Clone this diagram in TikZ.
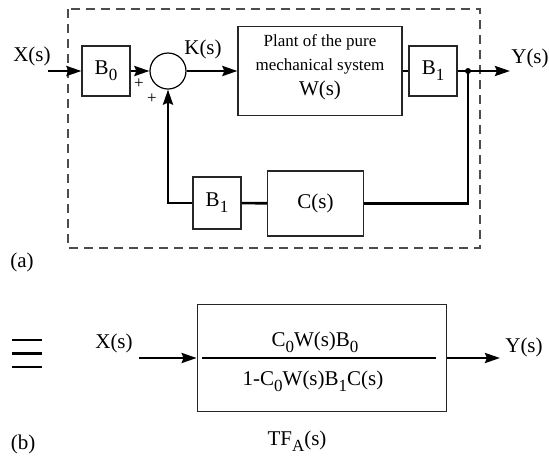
\documentclass[tikz,border=0pt]{standalone}
\usepackage{fontspec}
\setmainfont{Liberation Serif}
\usetikzlibrary{arrows.meta,positioning}
\newcommand{\lo}[1]{\raisebox{-0.6ex}{\fontsize{17}{17}\selectfont #1}}

\begin{document}
\begin{tikzpicture}[x=1pt,y=-1pt,font=\fontsize{21}{24}\selectfont,
    blk/.style={draw=black!85, line width=1.2pt, minimum width=48pt, minimum height=50pt, inner sep=0pt},
    sig/.style={line width=2.6pt, -{Stealth[length=15pt,width=10pt,inset=2pt]}},
    wire/.style={line width=2.6pt},
    sgn/.style={font=\fontsize{17}{17}\selectfont, inner sep=0pt}]
  \useasboundingbox (0,0) rectangle (549,456);

  % (a) the closed loop
  \draw[black!70, line width=1.2pt, dash pattern=on 9pt off 6pt] (68,9) rectangle (480,248);
  \node (xa) at (32,56) {X(s)};
  \coordinate (xin) at (48,71);
  \node[blk] (b0) at (106,71) {B\lo{0}};
  \node[draw, circle, line width=1.2pt, minimum size=36pt, inner sep=0pt] (sum) at (168,71) {};
  \node (k) at (203,49) {K(s)};
  \node[blk, minimum width=164pt, minimum height=89pt] (plant) at (320,71) {};
  \node[align=center] (plantlbl) at (320,67) {\fontsize{17}{20}\selectfont Plant of the pure\\\fontsize{17}{20}\selectfont mechanical system\\[1pt]W(s)};
  \node[blk] (b1) at (433,71) {B\lo{1}};
  \coordinate (jn) at (468,71);
  \coordinate (yend) at (510,71);
  \node (ya) at (530,58) {Y(s)};
  \node[blk, minimum height=52pt] (b1f) at (217,203) {B\lo{1}};
  \node[blk, minimum width=96pt, minimum height=65pt] (c) at (315.5,203.5) {C(s)};
  \node[sgn] (p1) at (139,84) {+};
  \node[sgn] (p2) at (152,99) {+};

  \draw[sig] (xin) -- (b0);
  \draw[sig] (b0) -- (sum);
  \draw[sig] (sum) -- (plant);
  \draw[wire] (plant) -- (b1);
  \draw[sig] (b1) -- (yend);
  \fill (jn) circle (3pt);
  \draw[wire] (jn) |- (c);
  \draw[wire] (c) -- (b1f);
  \draw[sig] (b1f) -| (sum);
  \node (la) at (22,262) {(a)};

  % (b) the equivalent block
  \foreach \yy in {340,353.5,367}
    \draw[wire] (12,\yy) -- (42,\yy);
  \node (xb) at (114,343) {X(s)};
  \coordinate (xbin) at (139,358);
  \node[draw=black!85, line width=1.2pt, minimum width=249.5pt, minimum height=107pt] (tf) at (322,358) {};
  \draw[line width=2pt] ([xshift=5.5pt]tf.west) -- ([xshift=-11pt]tf.east);
  \node (num) at (315,342) {C\lo{0}W(s)B\lo{0}};
  \node (den) at (313,381) {1-C\lo{0}W(s)B\lo{1}C(s)};
  \coordinate (ybend) at (500,358);
  \node (yb) at (524,347) {Y(s)};
  \draw[sig] (xbin) -- (tf);
  \draw[sig] (tf) -- (ybend);
  \node (lb) at (23,444) {(b)};
  \node[inner sep=1pt] (tfa) at (297,441) {TF\lo{A}(s)};
\end{tikzpicture}
\end{document}
